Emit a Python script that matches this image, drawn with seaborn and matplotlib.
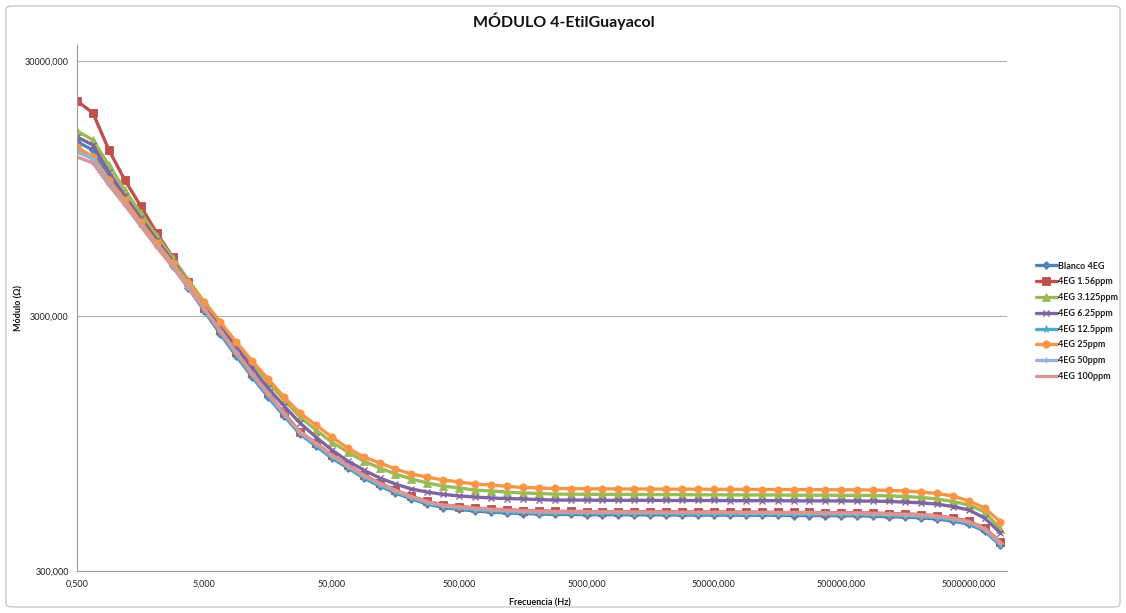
import numpy as np
import pandas as pd
import seaborn as sns
import matplotlib
matplotlib.use('Agg')
import matplotlib.pyplot as plt
from matplotlib.ticker import FixedLocator, FuncFormatter, NullLocator
from matplotlib.patches import FancyBboxPatch

# frecuencias medidas (Hz)
freq = [0.5, 0.667, 0.889, 1.186, 1.581, 2.109, 2.812, 3.749,
        5, 6.668, 8.891, 11.86, 15.81, 21.09, 28.12, 37.49,
        50, 66.68, 88.91, 118.6, 158.1, 210.9, 281.2, 374.9,
        500, 666.8, 889.1, 1186, 1581, 2109, 2812, 3749,
        5000, 6668, 8891, 11860, 15810, 21090, 28120, 37490,
        50000, 66680, 88910, 118600, 158100, 210900, 281200, 374900,
        500000, 666800, 889100, 1186000, 1581000, 2109000, 2812000, 3749000,
        5000000, 6668000, 8891000]

blanco = [14440, 13430, 10430, 8550, 7010, 5750, 4710, 3860, 3140, 2550,
          2090, 1730, 1444, 1216, 1034, 928, 832, 761, 695, 646,
          607, 575, 549, 532, 523, 516, 511, 507, 504, 502, 500,
          500, 499, 499, 499, 498, 498, 498, 497, 497, 497, 497, 496, 496, 496, 495, 495, 495, 494, 494,
          492, 490, 488, 485, 480, 471, 458, 430, 378]
eg_156 = [20900, 18760, 13440, 10240, 8100, 6350, 5110, 4080, 3230, 2640,
          2170, 1793, 1497, 1250, 1053, 953, 855, 781, 714, 664,
          623, 588, 562, 545, 537, 530, 525, 521, 518, 516, 514,
          514, 513, 513, 513, 512, 512, 512, 511, 511, 511, 510, 510, 510, 509, 509, 509, 508, 508, 508,
          506, 504, 502, 499, 494, 484, 471, 442, 390]
eg_3125 = [15940, 14700, 11730, 9360, 7600, 6180, 5070, 4150, 3400, 2840,
           2350, 1963, 1653, 1405, 1205, 1072, 961, 879, 810, 761,
           720, 689, 664, 646, 635, 623, 618, 612, 607, 604, 601,
           600, 600, 599, 599, 599, 598, 598, 598, 597, 597, 597, 596, 596, 596, 595, 595, 595, 594, 594,
           593, 591, 588, 583, 575, 562, 545, 511, 438]
eg_625 = [15100, 14050, 11010, 8870, 7270, 5960, 4930, 4040, 3310, 2740,
          2270, 1876, 1566, 1331, 1142, 1006, 895, 810, 747, 695,
          658, 629, 612, 599, 591, 585, 580, 577, 575, 572, 569,
          569, 569, 568, 568, 568, 568, 567, 567, 567, 567, 566, 566, 566, 566, 565, 565, 565, 565, 564,
          564, 562, 559, 555, 549, 537, 521, 484, 423]
eg_125 = [13430, 12720, 10240, 8400, 6880, 5690, 4710, 3900, 3170, 2580,
          2110, 1745, 1455, 1225, 1040, 935, 838, 766, 700, 650,
          611, 579, 553, 537, 528, 521, 516, 512, 509, 507, 505,
          505, 504, 504, 504, 503, 503, 503, 502, 502, 502, 502, 501, 501, 501, 500, 500, 500, 499, 499,
          497, 495, 493, 490, 485, 476, 462, 434, 381]
eg_25 = [13800, 12610, 10240, 8550, 7010, 5800, 4840, 4040, 3400, 2840,
         2370, 2000, 1700, 1444, 1250, 1121, 1006, 911, 840, 796,
         754, 720, 701, 682, 670, 658, 652, 644, 638, 635, 632,
         631, 630, 630, 629, 629, 629, 628, 628, 628, 627, 627, 627, 626, 626, 626, 625, 625, 624, 624,
         623, 621, 618, 612, 604, 591, 565, 530, 467]
eg_50 = [13190, 12380, 9970, 8250, 6820, 5650, 4710, 3900, 3200, 2630,
         2160, 1785, 1490, 1245, 1050, 948, 850, 776, 710, 660,
         619, 585, 558, 541, 533, 526, 521, 517, 514, 512, 510,
         510, 509, 509, 509, 508, 508, 508, 507, 507, 507, 507, 506, 506, 506, 505, 505, 505, 504, 504,
         502, 500, 498, 495, 490, 480, 467, 438, 385]
eg_100 = [12610, 11940, 9790, 8170, 6760, 5600, 4670, 3860, 3200, 2620,
          2150, 1777, 1484, 1245, 1053, 953, 852, 778, 712, 662,
          621, 587, 561, 544, 536, 529, 524, 520, 517, 515, 513,
          513, 512, 512, 512, 511, 511, 511, 510, 510, 510, 509, 509, 509, 508, 508, 508, 507, 507, 507,
          505, 503, 501, 498, 493, 483, 469, 440, 388]

series_names = ['Blanco 4EG', '4EG 1.56ppm', '4EG 3.125ppm', '4EG 6.25ppm',
                '4EG 12.5ppm', '4EG 25ppm', '4EG 50ppm', '4EG 100ppm']
series_vals = [blanco, eg_156, eg_3125, eg_625, eg_125, eg_25, eg_50, eg_100]
colors = ['#4F81BD', '#C0504D', '#9BBB59', '#8064A2',
          '#4BACC6', '#F79646', '#95B3D7', '#DA9694']
markers = ['D', 's', '^', 'x', '*', 'o', '+', '_']

x_ticks = [0.5, 5, 50, 500, 5000, 50000, 500000, 5000000]
y_ticks = [300, 3000, 30000]

sns.set_style('white')
plt.rcParams['font.family'] = ['Lato', 'DejaVu Sans']

fig = plt.figure(figsize=(11.26, 6.13), dpi=100)
ax = fig.add_axes([77 / 1126, 1 - 571 / 613, 930 / 1126, 526 / 613])

border = FancyBboxPatch((6 / 1126, 6 / 613), 1114 / 1126, 601 / 613,
                        boxstyle='round,pad=0,rounding_size=0.006',
                        transform=fig.transFigure, fill=False,
                        edgecolor='#C8C8C8', linewidth=1.0)
fig.patches.append(border)

for name, vals, c, m in zip(series_names, series_vals, colors, markers):
    df = pd.DataFrame({'freq': freq, 'mod': vals})
    filled = m not in ('x', '+', '_')
    sns.lineplot(data=df, x='freq', y='mod', ax=ax, color=c, lw=2.4,
                 marker=m, markersize=(4.2 if m == 'D' else 5.2) if filled else 4.5,
                 markeredgecolor=c,
                 markeredgewidth=0.6 if filled else 1.0,
                 label=name, sort=False)

ax.set_xscale('log')
ax.set_yscale('log')
ax.set_xlim(0.5, 1.0e7)
ax.set_ylim(300, 34650)

fmt = FuncFormatter(lambda v, p: f'{v:.3f}'.replace('.', ','))
ax.xaxis.set_major_locator(FixedLocator(x_ticks))
ax.yaxis.set_major_locator(FixedLocator(y_ticks))
ax.xaxis.set_minor_locator(NullLocator())
ax.yaxis.set_minor_locator(NullLocator())
ax.xaxis.set_major_formatter(fmt)
ax.yaxis.set_major_formatter(fmt)
ax.tick_params(axis='both', labelsize=6.5, colors='#868686', labelcolor='#222222',
               length=4, width=0.8, direction='out', pad=2)

ax.grid(axis='y', color='#B0B0B0', lw=0.8)
ax.grid(axis='x', visible=False)
for s in ['top', 'right']:
    ax.spines[s].set_visible(False)
for s in ['left', 'bottom']:
    ax.spines[s].set_color('#9A9A9A')
    ax.spines[s].set_linewidth(0.8)

ax.set_title('MÓDULO 4-EtilGuayacol', fontsize=11.5, fontweight='bold',
             color='#111111', x=0.523, y=1 + (45 - 27) / 526, pad=0)

ax.set_xlabel('Frecuencia (Hz)', fontsize=6.5, fontweight='bold', color='#111111')
ax.set_ylabel('Módulo (Ω)', fontsize=6.5, fontweight='bold', color='#111111')
ax.xaxis.set_label_coords(0.498, -0.053)
ax.yaxis.set_label_coords(-0.058, 0.5)

leg = ax.legend(loc='upper left', bbox_to_anchor=(1032 / 1126, 1 - 258 / 613),
                bbox_transform=fig.transFigure, frameon=False, fontsize=6.5,
                handlelength=2.4, handletextpad=0.1, labelspacing=0.75,
                borderaxespad=0)
for t in leg.get_texts():
    t.set_color('#222222')
    t.set_fontweight('bold')

fig.savefig('out.png', dpi=100)
